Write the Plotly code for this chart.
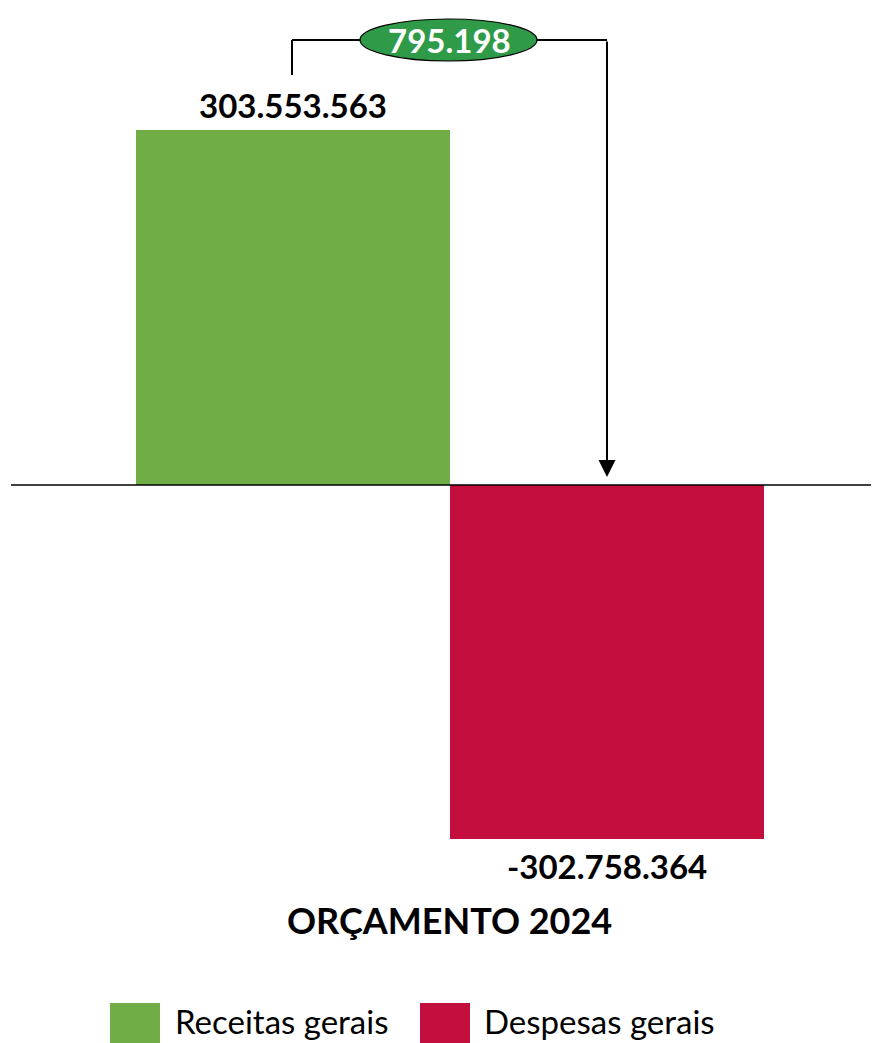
import plotly.graph_objects as go

categories = ["Receitas gerais", "Despesas gerais"]
values = [303553563, -302758364]
colors = ["#70AD47", "#C30E3E"]
value_labels = ["303.553.563", "-302.758.364"]
difference_label = "795.198"
title_text = "ORÇAMENTO 2024"

FONT = "Lato"
x_pos = [0, 1]

# screen-pixel helpers (page body has 8px margin)
OFF = 8
W, H = 879 - OFF, 1043 - OFF
PLOT_L, PLOT_R, PLOT_T, PLOT_B = 11, 879, OFF, 900
PX = 355 / 303.553563e6  # px per unit


def ypx(py):
    return (485 - py) / PX


def xd(px):
    return (px - 136) / 314 - 0.5


def xp(px):
    return (px - PLOT_L) / (PLOT_R - PLOT_L)


def yp(py):
    return (PLOT_B - py) / (PLOT_B - PLOT_T)


fig = go.Figure()
for i in range(2):
    fig.add_trace(go.Bar(x=[x_pos[i]], y=[values[i]], width=1.0, marker=dict(color=colors[i], line=dict(width=0)),
                         name=categories[i], showlegend=False, hoverinfo="skip"))

# zero line
fig.add_shape(type="line", xref="paper", yref="y", x0=0, x1=1, y0=0, y1=0, line=dict(color="black", width=1.5), layer="above")

# value labels
fig.add_annotation(x=x_pos[0], y=ypx(105), text=f"<b>{value_labels[0]}</b>", showarrow=False,
                   yanchor="middle", font=dict(family=FONT, size=33, color="black"))
fig.add_annotation(x=x_pos[1], y=ypx(866), text=f"<b>{value_labels[1]}</b>", showarrow=False,
                   yanchor="middle", font=dict(family=FONT, size=33, color="black"))

# connector
y_top = ypx(40)
xa = xd(607)
fig.add_shape(type="line", x0=xd(292), x1=xd(292), y0=ypx(75), y1=y_top, line=dict(color="black", width=2))
fig.add_shape(type="line", x0=xd(292), x1=xa, y0=y_top, y1=y_top, line=dict(color="black", width=2))
fig.add_annotation(x=xa, y=ypx(477), ax=xa, ay=y_top, axref="x", ayref="y",
                   xref="x", yref="y", text="", showarrow=True, arrowhead=2, arrowsize=1.7, arrowwidth=2, arrowcolor="black")
# ellipse
fig.add_shape(type="circle", x0=xd(360), x1=xd(537), y0=ypx(61), y1=ypx(19),
              fillcolor="#2F9B48", line=dict(color="black", width=1.2), layer="above")
fig.add_annotation(x=xd(449), y=ypx(40), text=f"<b>{difference_label}</b>", showarrow=False,
                   yanchor="middle", font=dict(family=FONT, size=33, color="white"))

# title
fig.add_annotation(xref="paper", yref="paper", x=xp(450), y=yp(920), text=f"<b>{title_text}</b>",
                   xanchor="center", yanchor="middle", showarrow=False, font=dict(family=FONT, size=36, color="black"))

# legend (manual)
leg = [(110, 160, 173), (420, 470, 482)]
for i, (a, b, t) in enumerate(leg):
    fig.add_shape(type="rect", xref="paper", yref="paper", x0=xp(a), x1=xp(b),
                  y0=yp(1043), y1=yp(1003), fillcolor=colors[i], line=dict(width=0))
    fig.add_annotation(xref="paper", yref="paper", x=xp(t), y=yp(1021), text=categories[i],
                       xanchor="left", yanchor="middle", showarrow=False, font=dict(family=FONT, size=33, color="black"))

fig.update_layout(
    width=W, height=H,
    margin=dict(l=PLOT_L - OFF, r=0, t=PLOT_T - OFF, b=H - (PLOT_B - OFF)),
    paper_bgcolor="white", plot_bgcolor="white",
    xaxis=dict(range=[xd(PLOT_L), xd(PLOT_R)], visible=False, fixedrange=True),
    yaxis=dict(range=[ypx(PLOT_B), ypx(PLOT_T)], visible=False, fixedrange=True),
    showlegend=False, bargap=0,
)
fig.write_html("out.html")
